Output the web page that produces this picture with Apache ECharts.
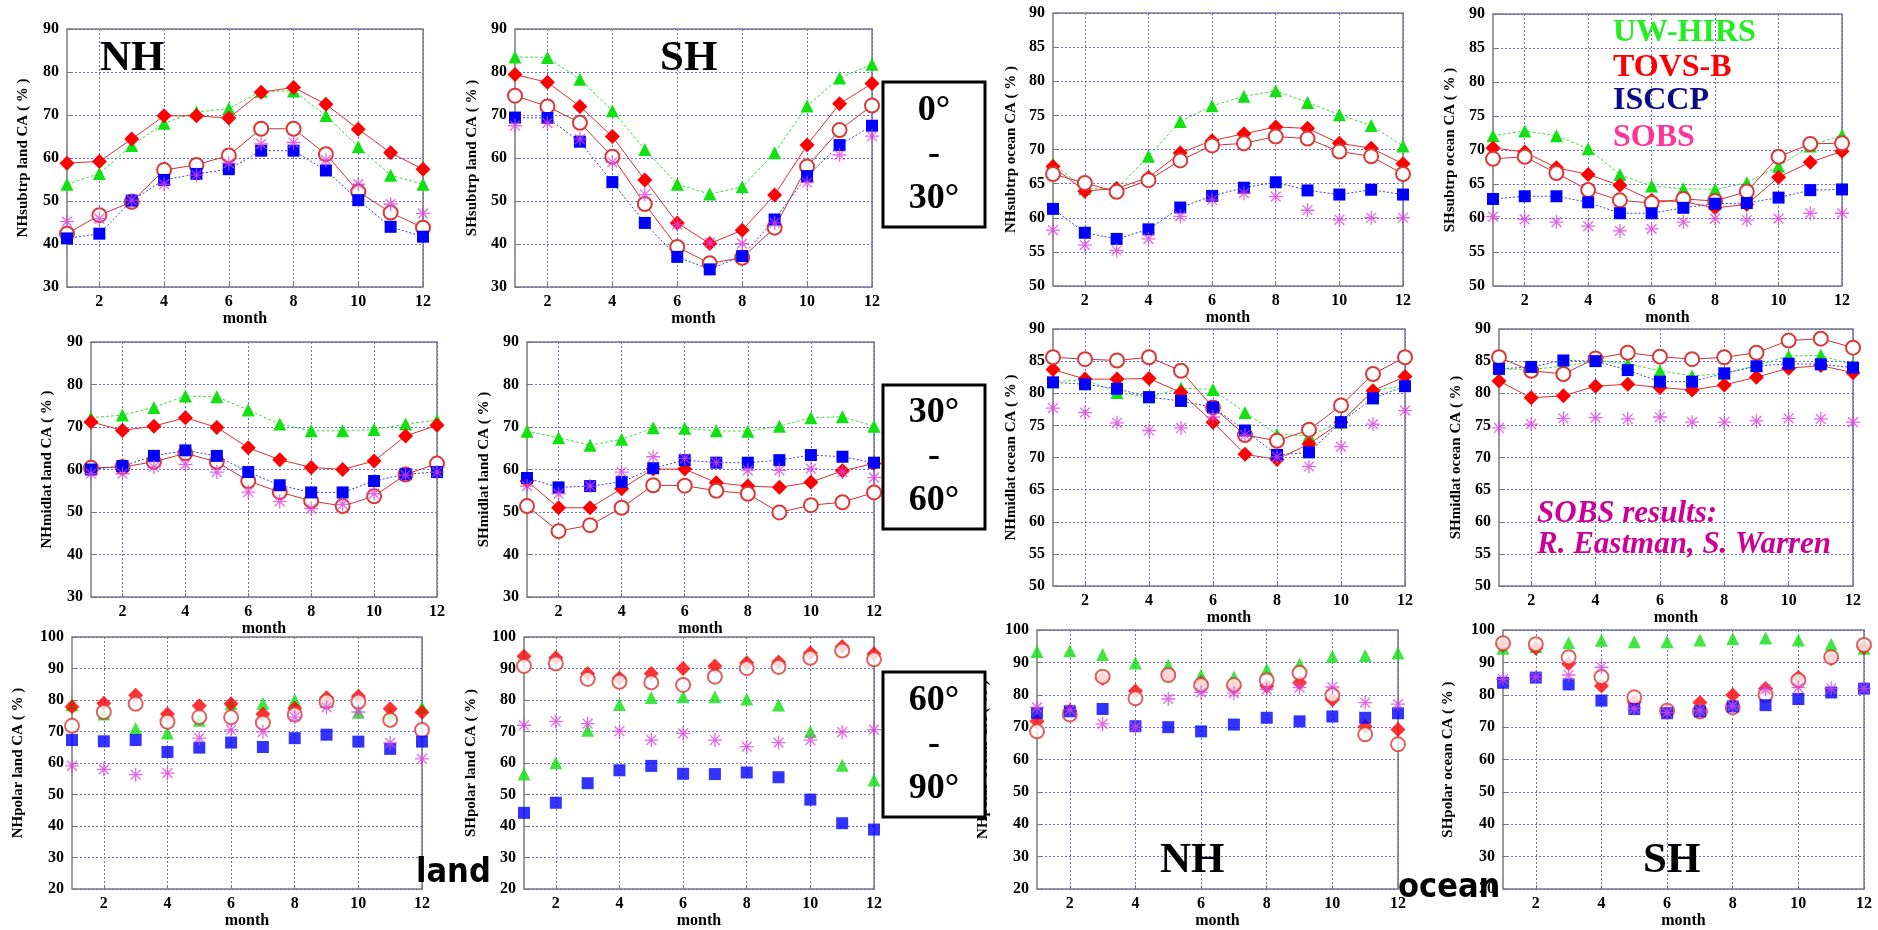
<!DOCTYPE html>
<html><head><meta charset="utf-8">
<script src="https://cdn.jsdelivr.net/npm/echarts@6/dist/echarts.min.js"></script>
<style>html,body{margin:0;padding:0;background:#fff}#c{width:1878px;height:930px}</style>
</head><body><div id="c"></div>
<script>
const months = ['1','2','3','4','5','6','7','8','9','10','11','12'];
const seriesNames = ['UW-HIRS','TOVS-B','TOVS-B (open)','ISCCP','SOBS'];

// 0-30 deg
const nhSubLandUW   = [53.9,56.4,62.9,68.1,70.7,71.5,75.5,75.6,69.9,62.6,56.0,53.9];
const nhSubLandTV   = [58.8,59.2,64.4,69.8,69.8,69.3,75.3,76.4,72.5,66.7,61.2,57.4];
const nhSubLandTC   = [42.4,46.7,49.8,57.2,58.4,60.6,66.8,66.8,60.9,52.2,47.3,43.8];
const nhSubLandIS   = [41.3,42.4,50.1,54.9,56.3,57.4,61.7,61.7,57.1,50.2,44.0,41.7];
const nhSubLandSO   = [45.2,45.9,50.2,53.9,56.0,58.8,63.3,63.6,59.5,53.9,49.3,47.1];

const shSubLandUW   = [83.5,83.4,78.3,71.0,62.0,53.9,51.6,53.3,61.2,72.1,78.6,81.8];
const shSubLandTV   = [79.4,77.6,72.0,65.0,54.9,44.9,40.1,43.2,51.4,63.0,72.6,77.3];
const shSubLandTC   = [74.5,72.0,68.2,60.3,49.3,39.3,35.5,36.8,43.8,58.0,66.5,72.2];
const shSubLandIS   = [69.4,69.3,63.8,54.4,44.9,37.0,34.1,37.2,45.7,55.8,63.0,67.5];
const shSubLandSO   = [67.5,68.1,64.4,59.0,51.5,44.5,40.3,40.1,44.9,54.3,60.7,65.1];

const nhSubOceanUW  = [67.9,64.3,64.2,69.0,74.1,76.4,77.8,78.6,76.9,75.1,73.5,70.5];
const nhSubOceanTV  = [67.5,63.9,64.3,65.9,69.5,71.3,72.3,73.3,73.1,70.9,70.2,67.9];
const nhSubOceanTC  = [66.4,65.1,63.8,65.5,68.4,70.6,70.9,71.9,71.6,69.7,69.0,66.4];
const nhSubOceanIS  = [61.3,57.8,56.9,58.3,61.5,63.2,64.4,65.2,64.0,63.4,64.1,63.4];
const nhSubOceanSO  = [58.2,56.0,55.2,56.9,60.2,62.6,63.6,63.1,61.1,59.7,60.0,60.0];

const shSubOceanUW  = [72.1,72.8,72.1,70.2,66.4,64.7,64.3,64.2,65.2,67.6,70.6,72.2];
const shSubOceanTV  = [70.3,69.7,67.4,66.4,64.8,62.6,62.4,61.5,62.0,66.0,68.2,69.8];
const shSubOceanTC  = [68.7,69.0,66.6,64.1,62.6,62.2,62.8,62.5,63.9,69.0,70.9,71.0];
const shSubOceanIS  = [62.8,63.2,63.2,62.3,60.7,60.7,61.5,62.1,62.2,63.0,64.1,64.2];
const shSubOceanSO  = [60.2,59.8,59.4,58.8,58.1,58.4,59.4,59.9,59.7,59.9,60.7,60.7];

// 30-60 deg
const nhMidLandUW   = [72.2,72.8,74.6,77.3,77.1,74.0,70.7,69.1,69.1,69.4,70.7,71.6];
const nhMidLandTV   = [71.2,69.2,70.2,72.2,69.9,65.1,62.3,60.5,60.0,62.0,67.9,70.4];
const nhMidLandTC   = [60.4,60.6,61.8,63.8,61.8,57.3,54.7,52.6,51.4,53.7,58.8,61.4];
const nhMidLandIS   = [60.0,60.8,63.2,64.5,63.2,59.4,56.3,54.6,54.6,57.3,58.9,59.4];
const nhMidLandSO   = [59.0,59.0,60.6,61.2,59.4,54.7,52.5,50.8,51.8,54.3,58.7,59.4];

const shMidLandUW   = [69.0,67.5,65.7,67.1,69.8,69.7,69.1,69.0,70.2,72.2,72.4,70.2];
const shMidLandTV   = [57.3,51.0,51.0,55.5,60.1,60.1,56.9,56.1,55.8,57.0,59.7,61.4];
const shMidLandTC   = [51.4,45.5,46.9,51.0,56.3,56.2,55.0,54.3,49.9,51.6,52.3,54.6];
const shMidLandIS   = [58.0,55.8,56.1,57.1,60.3,62.2,61.6,61.6,62.2,63.4,63.0,61.6];
const shMidLandSO   = [56.1,54.3,56.1,59.4,63.0,62.6,61.6,59.8,59.8,60.2,59.4,58.1];

const nhMidOceanUW  = [81.8,82.1,80.1,79.4,80.8,80.6,77.0,73.6,73.4,75.5,80.4,81.2];
const nhMidOceanTV  = [83.7,82.2,82.2,82.3,80.1,75.5,70.5,69.7,72.1,75.5,80.4,82.6];
const nhMidOceanTC  = [85.6,85.3,85.1,85.6,83.5,77.8,73.5,72.6,74.3,78.1,83.0,85.6];
const nhMidOceanIS  = [81.7,81.4,80.7,79.4,78.8,77.8,74.2,70.4,70.8,75.5,79.2,81.1];
const nhMidOceanSO  = [77.7,77.0,75.4,74.2,74.6,76.3,73.5,70.1,68.6,71.7,75.2,77.3];

const shMidOceanUW  = [83.8,83.7,84.2,85.1,84.6,83.5,82.7,83.1,84.3,85.8,85.9,84.4];
const shMidOceanTV  = [81.9,79.3,79.6,81.1,81.4,80.9,80.5,81.3,82.5,83.9,84.3,83.2];
const shMidOceanTC  = [85.6,83.5,83.0,85.4,86.3,85.7,85.3,85.6,86.3,88.2,88.5,87.1];
const shMidOceanIS  = [83.8,84.1,85.1,85.0,83.6,81.8,81.8,83.1,84.2,84.6,84.5,84.0];
const shMidOceanSO  = [74.6,75.2,76.1,76.2,76.0,76.3,75.5,75.5,75.7,76.1,76.0,75.5];

// 60-90 deg
const nhPolLandUW   = [78.5,75.6,71.0,69.5,73.6,78.8,79.0,80.0,79.5,76.1,75.7,77.7];
const nhPolLandTV   = [77.9,79.0,81.5,75.6,78.2,78.8,75.6,77.4,80.7,81.2,77.2,76.1];
const nhPolLandTC   = [71.8,76.2,78.8,73.1,74.6,74.5,72.8,75.4,79.5,79.5,73.7,70.5];
const nhPolLandIS   = [67.3,66.9,67.3,63.5,64.9,66.5,65.1,67.9,69.0,66.8,64.5,66.8];
const nhPolLandSO   = [59.1,58.0,56.3,56.8,67.9,70.5,69.9,74.6,77.7,76.2,66.4,61.3];

const shPolLandUW   = [56.5,60.1,70.4,78.6,80.8,81.0,81.0,80.3,78.4,69.9,59.3,54.6];
const shPolLandTV   = [93.9,93.4,88.4,87.0,88.4,90.0,90.8,91.8,92.1,94.9,97.0,94.7];
const shPolLandTC   = [90.8,91.6,86.7,85.8,85.6,84.8,87.4,90.1,90.5,93.4,95.7,92.9];
const shPolLandIS   = [44.2,47.4,53.6,57.7,59.1,56.6,56.5,57.0,55.5,48.4,40.9,38.9];
const shPolLandSO   = [72.0,73.2,72.5,70.1,67.3,69.4,67.3,65.2,66.5,67.3,69.8,70.6];

const nhPolOceanUW  = [93.4,93.6,92.4,89.8,89.1,86.0,85.5,87.8,89.5,91.9,92.1,92.9];
const nhPolOceanTV  = [71.8,75.1,85.0,81.2,86.1,83.7,82.5,82.7,83.7,78.5,70.2,69.3];
const nhPolOceanTC  = [68.7,73.9,85.6,78.9,86.1,83.0,83.0,84.5,86.8,79.9,67.8,64.7];
const nhPolOceanIS  = [74.4,74.9,75.6,70.3,70.0,68.7,70.8,72.9,71.8,73.3,72.9,74.3];
const nhPolOceanSO  = [76.1,75.4,71.0,70.0,78.7,80.7,80.5,81.7,82.2,82.4,77.6,77.1];

const shPolOceanUW  = [94.4,94.9,96.1,96.8,96.4,96.4,96.9,97.3,97.5,96.9,95.6,94.4];
const shPolOceanTV  = [95.4,94.4,89.6,82.7,77.8,74.8,77.6,79.9,81.9,85.3,91.2,94.6];
const shPolOceanTC  = [95.9,95.6,91.6,85.5,79.2,75.1,74.8,76.1,80.0,84.5,91.6,95.4];
const shPolOceanIS  = [83.7,85.3,83.2,78.2,75.6,74.3,74.9,76.4,76.8,78.7,80.7,81.9];
const shPolOceanSO  = [84.8,85.5,86.1,88.5,75.8,74.5,75.1,76.6,81.7,82.2,82.0,82.0];

const yTitles = ['NHsubtrp land CA ( % )','SHsubtrp land CA ( % )','NHsubtrp ocean CA ( % )','SHsubtrp ocean CA ( % )',
  'NHmidlat land CA ( % )','SHmidlat land CA ( % )','NHmidlat ocean CA ( % )','SHmidlat ocean CA ( % )',
  'NHpolar land CA ( % )','SHpolar land CA ( % )','NHpolar ocean CA ( % )','SHpolar ocean CA ( % )'];
const legendLabels = ['UW-HIRS','TOVS-B','ISCCP','SOBS'];

const panelData = [
  [nhSubLandUW,nhSubLandTV,nhSubLandTC,nhSubLandIS,nhSubLandSO],
  [shSubLandUW,shSubLandTV,shSubLandTC,shSubLandIS,shSubLandSO],
  [nhSubOceanUW,nhSubOceanTV,nhSubOceanTC,nhSubOceanIS,nhSubOceanSO],
  [shSubOceanUW,shSubOceanTV,shSubOceanTC,shSubOceanIS,shSubOceanSO],
  [nhMidLandUW,nhMidLandTV,nhMidLandTC,nhMidLandIS,nhMidLandSO],
  [shMidLandUW,shMidLandTV,shMidLandTC,shMidLandIS,shMidLandSO],
  [nhMidOceanUW,nhMidOceanTV,nhMidOceanTC,nhMidOceanIS,nhMidOceanSO],
  [shMidOceanUW,shMidOceanTV,shMidOceanTC,shMidOceanIS,shMidOceanSO],
  [nhPolLandUW,nhPolLandTV,nhPolLandTC,nhPolLandIS,nhPolLandSO],
  [shPolLandUW,shPolLandTV,shPolLandTC,shPolLandIS,shPolLandSO],
  [nhPolOceanUW,nhPolOceanTV,nhPolOceanTC,nhPolOceanIS,nhPolOceanSO],
  [shPolOceanUW,shPolOceanTV,shPolOceanTC,shPolOceanIS,shPolOceanSO]
];

// layout: [left, top, width, height], y range [min,max,interval], nameGap, draw lines
const layout = [
  {g:[67,29,356,258],  y:[30,90,10],  gap:36, lines:true},
  {g:[515,29,357,258], y:[30,90,10],  gap:35, lines:true},
  {g:[1053,13,350,273],y:[50,90,5],   gap:34, lines:true},
  {g:[1493,14,349,272],y:[50,90,5],   gap:35, lines:true},
  {g:[91,342,346,255], y:[30,90,10],  gap:36, lines:true},
  {g:[527,342,347,255],y:[30,90,10],  gap:35, lines:true},
  {g:[1053,329,352,257],y:[50,90,5],  gap:34, lines:true},
  {g:[1499,329,354,257],y:[50,90,5],  gap:35, lines:true},
  {g:[72,637,350,259], y:[20,100,10], gap:46, lines:false},
  {g:[524,637,350,258],y:[20,100,10], gap:45, lines:false},
  {g:[1037,630,361,262],y:[20,100,10],gap:46, lines:false},
  {g:[1503,630,361,262],y:[20,100,10],gap:47, lines:false}
];

const SERIF = '"Liberation Serif","Times New Roman",serif';
const asterisk = 'path://M5,0L5,10M0,5L10,5M1.5,1.5L8.5,8.5M1.5,8.5L8.5,1.5';
const styles = [
  {symbol:'triangle', size:13, color:'#11e011', line:{color:'#44dd44', width:1, type:[3,2]}},
  {symbol:'diamond', size:15, color:'#ff0000', line:{color:'#dd3030', width:1, type:'solid'}},
  {symbol:'emptyCircle', size:14, color:'#d83a3a', line:{color:'#cc3333', width:1, type:'solid'}},
  {symbol:'rect', size:12, color:'#0000ff', line:{color:'#4040c0', width:1, type:[2,2]}},
  {symbol:asterisk, size:14, color:'#dd44dd', line:null}
];
const evenIdx = (i) => i % 2 === 1;

const grids = [], xAxes = [], yAxes = [], series = [];
layout.forEach((p, i) => {
  grids.push({left:p.g[0], top:p.g[1], width:p.g[2], height:p.g[3], show:true,
    borderColor:'#7a7a7a', borderWidth:1.5, backgroundColor:'#fff'});
  xAxes.push({type:'category', gridIndex:i, data:months, boundaryGap:false,
    name:'month', nameLocation:'middle', nameGap:20,
    nameTextStyle:{fontFamily:SERIF, fontWeight:'bold', fontSize:16, color:'#000'},
    axisLine:{show:false},
    axisTick:{show:true, inside:true, length:4, interval:evenIdx, lineStyle:{color:'#777'}},
    axisLabel:{interval:evenIdx, fontFamily:SERIF, fontWeight:'bold', fontSize:16, color:'#000', margin:7},
    splitLine:{show:true, interval:evenIdx, lineStyle:{color:'#6a6ad8', width:1, type:[2,2]}}});
  yAxes.push({type:'value', gridIndex:i, min:p.y[0], max:p.y[1], interval:p.y[2],
    name:yTitles[i], nameLocation:'middle', nameGap:p.gap,
    nameTextStyle:{fontFamily:SERIF, fontWeight:'bold', fontSize:15, color:'#000'},
    axisLine:{show:false},
    axisTick:{show:true, inside:true, length:4, lineStyle:{color:'#777'}},
    axisLabel:{fontFamily:SERIF, fontWeight:'bold', fontSize:16, color:'#000', margin:8},
    splitLine:{show:true, lineStyle:{color:'#6a6ad8', width:1, type:[2,2]}}});
  panelData[i].forEach((arr, k) => {
    const s = styles[k];
    const useLine = p.lines && s.line;
    const ser = {
      type: useLine ? 'line' : 'scatter', name: seriesNames[k],
      xAxisIndex:i, yAxisIndex:i, data:arr,
      symbol:s.symbol, symbolSize:s.size, silent:true, z:2+k,
      itemStyle: k === 4 ? {color:'rgba(0,0,0,0)', borderColor:s.color, borderWidth:1.3}
               : (k === 2 ? {color:s.color, borderWidth:1.2} : {color:s.color})
    };
    if (useLine) { ser.lineStyle = s.line; ser.showSymbol = true; ser.showAllSymbol = true; }
    series.push(ser);
  });
});

const boxes = [
  {y:82, h:145, t:'0°\n-\n30°'},
  {y:385, h:144, t:'30°\n-\n60°'},
  {y:672, h:145, t:'60°\n-\n90°'}
];
const graphic = [];
boxes.forEach(b => {
  graphic.push({type:'rect', shape:{x:883, y:b.y, width:102, height:b.h}, z:100,
    style:{fill:'#fff', stroke:'#000', lineWidth:3}});
  graphic.push({type:'text', x:934, y:b.y + b.h/2, z:101,
    style:{text:b.t, font:'bold 36px ' + SERIF, fill:'#000', align:'center', verticalAlign:'middle', lineHeight:44}});
});
const bigTitle = 'bold 43px ' + SERIF;
[['NH',100,37],['SH',660,37],['NH',1160,839],['SH',1643,839]].forEach(t => {
  graphic.push({type:'text', x:t[1], y:t[2], z:100, style:{text:t[0], font:bigTitle, fill:'#000', verticalAlign:'top'}});
});
const legendColors = ['#22ee22','#ff0000','#0a0a88','#ff3399'];
[17,52,85,122].forEach((y, i) => {
  graphic.push({type:'text', x:1613, y:y, z:100,
    style:{text:legendLabels[i], font:'bold 32px ' + SERIF, fill:legendColors[i], verticalAlign:'top'}});
});
graphic.push({type:'text', x:1537, y:498, z:100,
  style:{text:'SOBS results:', font:'italic bold 31px ' + SERIF, fill:'#cc0099', verticalAlign:'top'}});
graphic.push({type:'text', x:1537, y:529, z:100,
  style:{text:'R. Eastman, S. Warren', font:'italic bold 31px ' + SERIF, fill:'#cc0099', verticalAlign:'top'}});
const comic = 'bold 34px "Comic Sans MS","DejaVu Sans Condensed","DejaVu Sans",sans-serif';
graphic.push({type:'text', x:416, y:856, z:100, style:{text:'land', font:comic, fill:'#000', verticalAlign:'top'}});
graphic.push({type:'text', x:1398, y:871, z:100, style:{text:'ocean', font:comic, fill:'#000', verticalAlign:'top'}});

const chart = echarts.init(document.getElementById('c'), null, {renderer:'canvas'});
chart.setOption({
  backgroundColor:'#fff', animation:false,
  grid:grids, xAxis:xAxes, yAxis:yAxes, series:series, graphic:graphic
});
</script>
</body></html>
